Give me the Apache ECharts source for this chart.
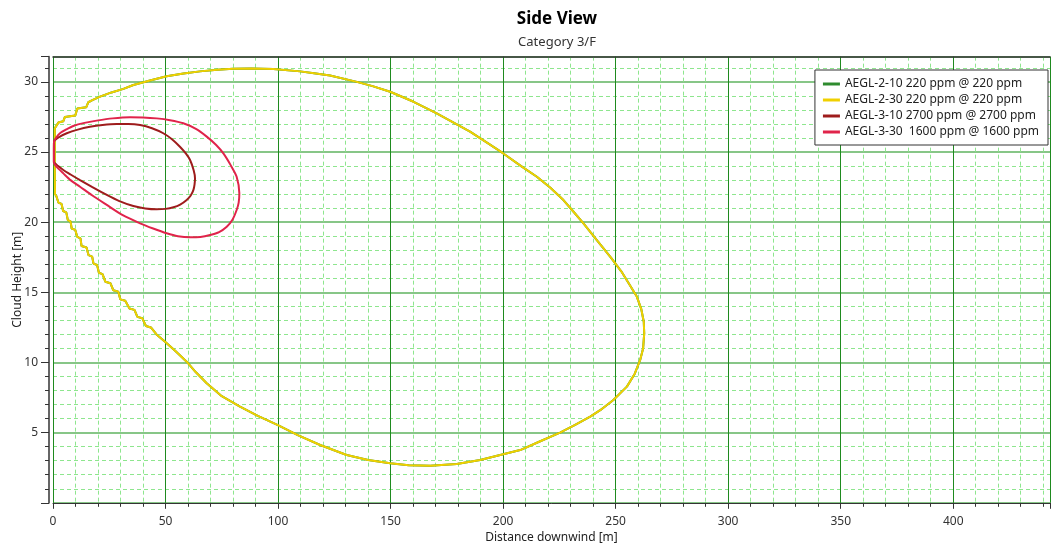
<!DOCTYPE html>
<html>
<head>
<meta charset="utf-8">
<script src="https://cdn.jsdelivr.net/npm/echarts@6/dist/echarts.min.js"></script>
<style>
html,body{margin:0;padding:0;background:#fff;}
#chart{width:1051px;height:545px;}
</style>
</head>
<body>
<div id="chart"></div>
<script>
// ---- data ----
const titleText = 'Side View';
const subtitleText = 'Category 3/F';
const xAxisName = 'Distance downwind [m]';
const yAxisName = 'Cloud Height [m]';
const seriesNames = [
  'AEGL-2-10 220 ppm @ 220 ppm',
  'AEGL-2-30 220 ppm @ 220 ppm',
  'AEGL-3-10 2700 ppm @ 2700 ppm',
  'AEGL-3-30  1600 ppm @ 1600 ppm'
];
const xTickValues = [0, 50, 100, 150, 200, 250, 300, 350, 400];
const yTickValues = [5, 10, 15, 20, 25, 30];

// AEGL-2-30 footprint (x = distance downwind, y = cloud height)
const aegl2_30Points = [
  [0.9,21.94],[0.8,24.0],[0.8,26.7],[1.6,26.75],[2.4,27.1],[4.6,27.2],[5.3,27.5],[9.9,27.6],[10.8,28.1],
  [14.8,28.2],[15.7,28.55],[17.5,28.7],[20.9,28.95],[26,29.25],[31.3,29.5],[35.7,29.78],[43.1,30.1],
  [50.5,30.4],[58,30.6],[65.3,30.75],[73,30.87],[80,30.93],[88,30.95],[97.9,30.92],[109.8,30.75],
  [116,30.62],[123.1,30.45],[135,30.0],[142,29.7],[149.8,29.3],[160,28.6],[170.5,27.76],[178,27.1],
  [185.3,26.45],[193,25.65],[200.1,24.9],[208,24.0],[215,23.24],[221,22.45],[226.8,21.58],[231,20.8],
  [235.7,19.92],[242,18.65],[248,17.45],[252.5,16.5],[256,15.6],[259.4,14.7],[261.4,13.8],[262.5,12.9],
  [262.7,12.08],[262.2,11.0],[260.9,10.18],[258.5,9.2],[255,8.28],[249,7.33],[244,6.7],[238.7,6.14],
  [232,5.55],[225.3,5.0],[216,4.35],[207.6,3.76],[198.7,3.41],[189.8,3.05],[179.4,2.77],[167.6,2.64],
  [158,2.68],[149.8,2.82],[140,3.05],[130.5,3.41],[118.7,4.12],[109,4.8],[99.7,5.55],[91,6.2],
  [83.1,6.85],[75,7.6],[68.3,8.52],[63.5,9.3],[59.4,10.06],[54.5,10.8],[49.8,11.48],[46,12.0],[43.5,12.5],
  [41.3,12.6],[39.7,13.15],[37.5,13.25],[36.2,13.75],[34.0,13.85],[32.1,14.4],[29.9,14.5],[29.0,15.05],
  [26.8,15.15],[25.5,15.65],[23.3,15.75],[22.0,16.3],[20.4,16.4],[19.6,16.95],[18.0,17.05],[17.4,17.55],
  [15.8,17.65],[14.9,18.2],[12.7,18.3],[12.2,18.85],[10.8,18.95],[9.9,19.45],[8.3,19.55],[7.8,20.05],
  [6.6,20.15],[5.9,20.7],[4.5,20.8],[3.8,21.3],[2.4,21.4],[1.4,21.9],[0.9,21.94]
];
// AEGL-2-10 coincides with AEGL-2-30 in the picture (hidden underneath)
const aegl2_10Points = aegl2_30Points;

const aegl3_10Points = [
  [0.4,24.25],[0.4,25.0],[0.45,25.74],[2.5,26.05],[6.1,26.34],[11,26.6],[16.4,26.8],[22,26.93],[28.3,27.0],
  [33.5,27.0],[38.7,26.93],[44,26.7],[49,26.34],[53,25.9],[56.4,25.38],[59,24.9],[60.9,24.43],[62.5,23.7],
  [63.1,23.13],[62.9,22.7],[62.4,22.3],[61.2,21.9],[59.4,21.58],[56.5,21.25],[53.5,21.06],[50,20.95],
  [46.1,20.92],[41,20.98],[35.7,21.15],[29.5,21.5],[23.9,21.94],[17.5,22.5],[12,23.0],[7.8,23.4],
  [4.6,23.72],[2.3,24.0],[0.9,24.2],[0.4,24.25]
];

const aegl3_30Points = [
  [0.4,24.25],[0.4,25.0],[0.45,25.74],[1.5,26.05],[3.1,26.34],[6,26.62],[9.0,26.86],[14,27.08],[19.4,27.24],
  [26.5,27.4],[34.2,27.48],[40,27.47],[46.1,27.4],[52,27.27],[57.9,27.05],[63.5,26.65],[68.3,26.1],
  [72.5,25.5],[75.7,24.9],[79,24.05],[81.6,23.24],[82.8,22.06],[82.5,21.4],[81.6,20.87],[79.8,20.2],
  [77.2,19.68],[73.8,19.3],[69.8,19.09],[65.5,18.95],[60.9,18.92],[55.5,19.0],[50.5,19.21],[44.5,19.55],
  [38.7,19.92],[31,20.5],[23.9,21.23],[17.5,21.9],[12,22.53],[7.8,23.0],[4.6,23.48],[2.5,23.8],
  [0.9,24.08],[0.4,24.25]
];

const seriesColors = ['#2e8b2e', '#f0d000', '#9e1c1c', '#e0244a'];
const seriesData = [aegl2_10Points, aegl2_30Points, aegl3_10Points, aegl3_30Points];
const seriesSmooth = [false, false, 0.25, 0.25];

// ---- chart ----
const chart = echarts.init(document.getElementById('chart'), null, {renderer: 'canvas'});
const FONT = 'Noto Sans';
const X_MIN = 0, X_MAX = 443, Y_MIN = 0, Y_MAX = 31.8;

const option = {
  backgroundColor: '#ffffff',
  animation: false,
  textStyle: {fontFamily: FONT},
  title: {
    text: titleText,
    subtext: subtitleText,
    left: 552,
    top: 6,
    textAlign: 'center',
    itemGap: 8,
    textStyle: {fontFamily: FONT, fontSize: 17, fontWeight: 'bold', color: '#000'},
    subtextStyle: {fontFamily: FONT, fontSize: 13, color: '#333'}
  },
  legend: {
    orient: 'vertical',
    right: 3,
    top: 70,
    padding: [7, 9, 6, 8],
    backgroundColor: '#ffffff',
    borderColor: '#333',
    borderWidth: 1,
    itemGap: 2,
    itemWidth: 17,
    itemHeight: 3,
    icon: 'rect',
    textStyle: {fontFamily: FONT, fontSize: 12, color: '#222', lineHeight: 14},
    data: seriesNames
  },
  grid: {
    left: 53,
    right: 1,
    top: 545 - 42.2 - Y_MAX * 14.03,
    bottom: 42.2,
    containLabel: false,
    outerBoundsMode: 'none'
  },
  xAxis: [{
    type: 'value',
    min: X_MIN,
    max: X_MAX,
    interval: 50,
    name: xAxisName,
    nameLocation: 'middle',
    nameGap: 29,
    nameMoveOverlap: false,
    nameTextStyle: {fontFamily: FONT, fontSize: 12, color: '#222'},
    axisLine: {show: true, onZero: false, lineStyle: {color: '#333', width: 1}},
    axisTick: {show: true, length: 6, lineStyle: {color: '#333'}},
    minorTick: {show: true, splitNumber: 5, length: 4, lineStyle: {color: '#333'}},
    axisLabel: {
      margin: 13, fontFamily: FONT, fontSize: 12, color: '#333',
      formatter: v => (xTickValues.indexOf(v) >= 0 ? String(v) : '')
    },
    splitLine: {show: true, lineStyle: {color: '#1f8a1f', width: 1}},
    minorSplitLine: {show: true, lineStyle: {color: '#8ee68e', width: 1, type: [4, 3]}}
  }, {
    type: 'value',
    position: 'top',
    min: X_MIN,
    max: X_MAX,
    interval: 50,
    axisLine: {show: true, onZero: false, lineStyle: {color: '#333', width: 1.5}},
    axisTick: {show: false},
    axisLabel: {show: false},
    splitLine: {show: false}
  }],
  yAxis: {
    type: 'value',
    min: Y_MIN,
    max: Y_MAX,
    interval: 5,
    offset: 4,
    name: yAxisName,
    nameLocation: 'middle',
    nameGap: 25,
    nameMoveOverlap: false,
    nameTextStyle: {fontFamily: FONT, fontSize: 12, color: '#222'},
    axisLine: {show: true, onZero: false, lineStyle: {color: '#666', width: 2}},
    axisTick: {show: true, length: 8, lineStyle: {color: '#333'}},
    minorTick: {show: true, splitNumber: 5, length: 4, lineStyle: {color: '#333'}},
    axisLabel: {
      margin: 11, fontFamily: FONT, fontSize: 12, color: '#333',
      formatter: v => (yTickValues.indexOf(v) >= 0 ? String(v) : '')
    },
    splitLine: {show: true, lineStyle: {color: '#5fb35f', width: 1.5}},
    minorSplitLine: {show: true, lineStyle: {color: '#8ee68e', width: 1, type: [4, 3]}}
  },
  series: seriesNames.map((name, i) => ({
    name: name,
    type: 'line',
    xAxisIndex: 0,
    yAxisIndex: 0,
    data: seriesData[i],
    showSymbol: false,
    symbol: 'none',
    smooth: seriesSmooth[i],
    color: seriesColors[i],
    lineStyle: {color: seriesColors[i], width: 2},
    z: 3 + i
  }))
};
chart.setOption(option);
</script>
</body>
</html>
